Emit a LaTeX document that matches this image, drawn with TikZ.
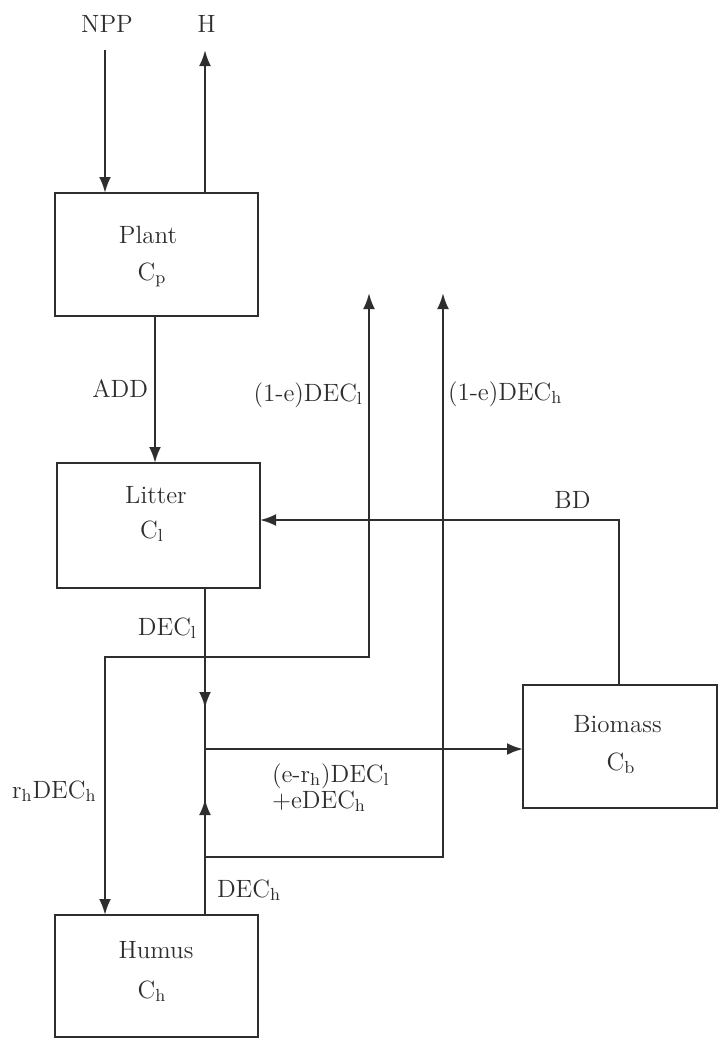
\documentclass[tikz,border=0pt]{standalone}
\usetikzlibrary{arrows.meta}
\begin{document}
\begin{tikzpicture}[x=0.5pt,y=-0.5pt,
  color=black!82,
  box/.style={draw, line width=1.3pt, minimum width=101.5pt, minimum height=61.5pt, inner sep=0pt, outer sep=0pt},
  txt/.style={font=\fontsize{12.5}{14}\selectfont, inner sep=0pt, outer sep=0pt},
  arr/.style={-{Latex[length=8pt,width=6pt]}, line width=1.2pt},
  dblarr/.style={{Latex[length=8pt,width=6pt]}-{Latex[length=8pt,width=6pt]}, line width=1.2pt},
  ln/.style={line width=1.2pt}]
\useasboundingbox (0,0) rectangle (719,1040);

% boxes
\node[box] (plant) at (156.5,254.5) {};
\node[box, minimum height=62.5pt] (litter) at (158.5,525.5) {};
\node[box, minimum height=61pt] (humus) at (156.5,976) {};
\node[box, minimum width=97pt] (bio) at (620,746.5) {};

% box texts
\node[txt, anchor=base] (tplant) at (148,243) {Plant};
\node[txt, anchor=base] (tcp) at (152,280) {C\textsubscript{p}};
\node[txt, anchor=base] (tlitter) at (156,503) {Litter};
\node[txt, anchor=base] (tcl) at (152,538) {C\textsubscript{l}};
\node[txt, anchor=base] (tbio) at (617.5,732) {Biomass};
\node[txt, anchor=base] (tcb) at (621,770) {C\textsubscript{b}};
\node[txt, anchor=base] (thumus) at (156,958) {Humus};
\node[txt, anchor=base] (tch) at (152,998) {C\textsubscript{h}};

% labels
\node[txt, anchor=base] (npp) at (107,32) {NPP};
\node[txt, anchor=base] (h) at (206.5,32) {H};
\node[txt, anchor=base east] (add) at (148,397) {ADD};
\node[txt, anchor=base east] (l1) at (363,401) {(1-e)DEC\textsubscript{l}};
\node[txt, anchor=base west] (l2) at (448,400) {(1-e)DEC\textsubscript{h}};
\node[txt, anchor=base] (bd) at (572.5,508) {BD};
\node[txt, anchor=base east] (ldec) at (197,635) {DEC\textsubscript{l}};
\node[txt, anchor=base west] (rh) at (12,798) {r\textsubscript{h}DEC\textsubscript{h}};
\node[txt, anchor=base west] (er1) at (272,782) {(e-r\textsubscript{h})DEC\textsubscript{l}};
\node[txt, anchor=base west] (er2) at (272,808) {+eDEC\textsubscript{h}};
\node[txt, anchor=base west] (hdec) at (217,897) {DEC\textsubscript{h}};

% coordinates
\coordinate (nppS) at (105,50);
\coordinate (hE) at (205,50);
\coordinate (addX) at (155,0);
\coordinate (bdC) at (619,520);
\coordinate (decX) at (205,0);
\coordinate (dlTip) at (205,708);
\coordinate (jc) at (205,749);
\coordinate (dhTip) at (205,799);
\coordinate (olT) at (369,293);
\coordinate (olB) at (369,657);
\coordinate (rhC) at (105,657);
\coordinate (ohS) at (205,857);
\coordinate (ohC) at (443,857);
\coordinate (ohT) at (443,293);

% connectors
\draw[arr] (nppS) -- (nppS |- plant.north);
\draw[arr] (hE |- plant.north) -- (hE);
\draw[arr] (addX |- plant.south) -- (addX |- litter.north);
\draw[arr] (bdC |- bio.north) -- (bdC) -- (bdC -| litter.east);
\draw[ln] (decX |- litter.south) -- (decX |- humus.north);
\draw[arr] (decX |- litter.south) -- (dlTip);
\draw[arr] (decX |- humus.north) -- (dhTip);
\draw[arr] (jc) -- (jc -| bio.west);
\draw[dblarr] (olT) -- (olB) -- (rhC) -- (rhC |- humus.north);
\draw[arr] (ohS) -- (ohC) -- (ohT);
\end{tikzpicture}
\end{document}
